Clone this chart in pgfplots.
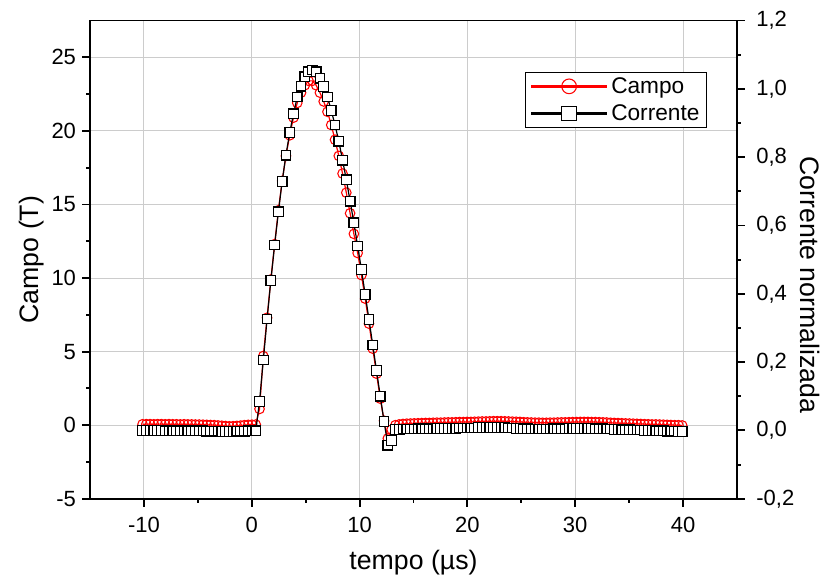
\documentclass[border=0pt]{standalone}
\usepackage{fontspec}
\setmainfont{Liberation Sans}
\usepackage{pgfplots}
\usepackage{pgfplotstable}
\pgfplotsset{compat=1.18}

% t (us), Campo (T), Corrente normalizada
\pgfplotstableread{
t campo corr
-10.13 0.06 0.000
-9.78 0.07 0.000
-9.43 0.07 0.000
-9.08 0.06 0.000
-8.73 0.07 0.000
-8.38 0.07 0.000
-8.03 0.06 -0.001
-7.68 0.07 -0.001
-7.33 0.06 -0.001
-6.98 0.06 -0.001
-6.63 0.05 -0.001
-6.28 0.06 -0.001
-5.93 0.05 -0.001
-5.58 0.05 -0.001
-5.23 0.04 -0.001
-4.88 0.04 -0.001
-4.53 0.03 -0.001
-4.18 0.02 -0.002
-3.83 0.01 -0.002
-3.48 0.00 -0.002
-3.13 -0.02 -0.002
-2.78 -0.04 -0.003
-2.43 -0.06 -0.003
-2.08 -0.08 -0.003
-1.73 -0.07 -0.003
-1.38 -0.05 -0.002
-1.03 -0.03 -0.002
-0.68 0.00 -0.002
-0.33 0.02 -0.001
0.02 0.03 -0.001
0.37 0.04 -0.001
0.72 1.1 0.085
1.07 4.7 0.206
1.42 7.3 0.326
1.77 9.9 0.439
2.12 12.3 0.543
2.47 14.6 0.640
2.82 16.6 0.729
3.17 18.3 0.806
3.52 19.7 0.872
3.87 20.9 0.927
4.22 21.9 0.976
4.57 22.6 1.008
4.92 23.1 1.035
5.27 23.4 1.050
5.62 23.4 1.055
5.97 23.1 1.050
6.32 22.6 1.031
6.67 22.0 1.007
7.02 21.3 0.976
7.37 20.4 0.937
7.72 19.4 0.894
8.07 18.3 0.847
8.42 17.1 0.791
8.77 15.8 0.734
9.12 14.4 0.671
9.47 13.0 0.608
9.82 11.7 0.540
10.17 10.2 0.471
10.52 8.6 0.398
10.87 6.9 0.325
11.22 5.2 0.250
11.57 3.5 0.175
11.92 1.8 0.100
12.27 0.3 0.026
12.62 -0.9 -0.043
12.97 -0.3 -0.029
13.32 0.00 0.003
13.67 0.05 0.003
14.02 0.08 0.004
14.37 0.10 0.004
14.72 0.11 0.004
15.07 0.12 0.004
15.42 0.13 0.005
15.77 0.14 0.005
16.12 0.15 0.005
16.47 0.15 0.005
16.82 0.16 0.005
17.17 0.17 0.006
17.52 0.17 0.006
17.87 0.18 0.006
18.22 0.19 0.006
18.57 0.19 0.006
18.92 0.20 0.006
19.27 0.21 0.007
19.62 0.21 0.007
19.97 0.22 0.007
20.32 0.22 0.007
20.67 0.23 0.007
21.02 0.24 0.008
21.37 0.25 0.008
21.72 0.25 0.008
22.07 0.26 0.008
22.42 0.27 0.008
22.77 0.27 0.008
23.12 0.27 0.008
23.47 0.26 0.008
23.82 0.25 0.007
24.17 0.24 0.007
24.52 0.23 0.006
24.87 0.22 0.006
25.22 0.20 0.005
25.57 0.19 0.005
25.92 0.18 0.004
26.27 0.17 0.004
26.62 0.17 0.004
26.97 0.16 0.004
27.32 0.16 0.004
27.67 0.17 0.004
28.02 0.17 0.005
28.37 0.18 0.005
28.72 0.19 0.005
29.07 0.19 0.005
29.42 0.20 0.006
29.77 0.21 0.006
30.12 0.21 0.006
30.47 0.22 0.006
30.82 0.22 0.006
31.17 0.22 0.006
31.52 0.21 0.006
31.87 0.21 0.005
32.22 0.20 0.005
32.57 0.19 0.005
32.92 0.18 0.004
33.27 0.16 0.004
33.62 0.15 0.003
33.97 0.14 0.003
34.32 0.13 0.002
34.67 0.12 0.002
35.02 0.11 0.002
35.37 0.10 0.001
35.72 0.09 0.001
36.07 0.08 0.001
36.42 0.07 0.000
36.77 0.06 0.000
37.12 0.05 0.000
37.47 0.05 -0.001
37.82 0.04 -0.001
38.17 0.03 -0.001
38.52 0.02 -0.002
38.87 0.01 -0.002
39.22 0.00 -0.002
39.57 0.00 -0.003
39.92 -0.02 -0.003
}\datatable

\pgfplotsset{
  campo/.style={red, line width=0.9pt, mark=o, mark size=3.6pt,
    mark options={line width=0.8pt, solid}},
  corr/.style={black, line width=0.9pt, mark=square*, mark size=3.6pt,
    mark options={fill=white, draw=black, line width=0.9pt, solid}},
  common/.style={scale only axis, width=485pt, height=358.5pt,
    xmin=-15, xmax=45, tick align=outside,
    major tick length=6pt, minor tick length=3pt,
    axis line style={line width=1.4pt},
    tick style={black, line width=1.4pt},
    tick label style={font=\fontsize{16.5}{18}\selectfont},
    label style={font=\fontsize{20}{22}\selectfont},
    /pgf/number format/assume math mode=true},
}

\begin{document}
\begin{tikzpicture}
\begin{axis}[common, name=ax,
  ymin=-5, ymax=27.5,
  xtick={-10,0,10,20,30,40}, ytick={-5,0,5,10,15,20,25},
  minor x tick num=1, minor y tick num=1,
  xtick pos=bottom, ytick pos=left,
  xticklabel style={yshift=-4.5pt},
  yticklabel style={xshift=-1pt},
  grid=major, major grid style={black!20, line width=0.75pt},
  xlabel={tempo (µs)}, ylabel={Campo (T)},
  xlabel style={at={(axis description cs:0.5,-0.133)}, anchor=center},
  ylabel style={at={(axis description cs:-0.09,0.5)}, anchor=center}]
\addplot[campo] table[x=t, y=campo] {\datatable};
\end{axis}
\begin{axis}[common,
  ymin=-0.2, ymax=1.2,
  axis y line*=right, axis x line=none,
  ytick={-0.2,0,0.2,0.4,0.6,0.8,1.0,1.2}, minor y tick num=1,
  yticklabel style={xshift=5pt, /pgf/number format/.cd, use comma, fixed, fixed zerofill, precision=1},
  ylabel={Corrente normalizada},
  ylabel style={at={(axis description cs:1.113,0.447)}, anchor=center, rotate=180},
  legend style={at={(axis description cs:0.953,0.893)}, anchor=north east,
    draw=black, line width=0.6pt, font=\fontsize{17}{19}\selectfont,
    inner xsep=3pt, inner ysep=2pt, row sep=3pt, cells={anchor=west}},
  legend image code/.code={
    \draw[#1, line width=2.2pt, mark=none] (0pt,0pt) -- (57pt,0pt);
    \draw[#1, mark size=5.5pt] plot coordinates {(28.5pt,0pt)};}]
\addlegendimage{campo}
\addlegendentry{Campo}
\addplot[corr] table[x=t, y=corr] {\datatable};
\addlegendentry{Corrente}
\end{axis}
\pgfresetboundingbox
\path ([xshift=-67.5pt,yshift=-58.5pt]ax.south west) rectangle ([xshift=67.5pt,yshift=15.4pt]ax.north east);
\end{tikzpicture}
\end{document}
